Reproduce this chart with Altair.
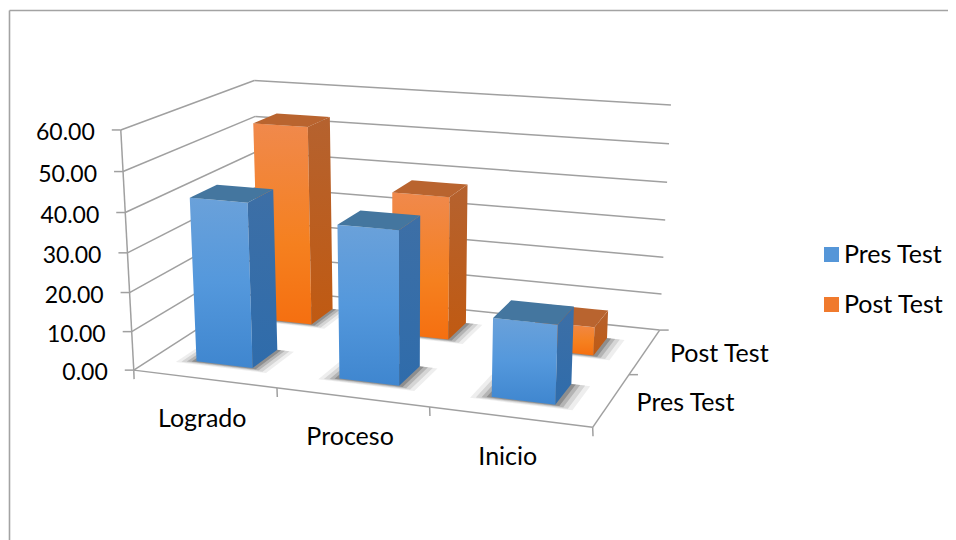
import altair as alt
import numpy as np
import pandas as pd

categories = ["Logrado", "Proceso", "Inicio"]
series = ["Pres Test", "Post Test"]
pres_test = [42.0, 38.5, 19.5]
post_test = [53.5, 38.0, 7.5]
value_ticks = [0, 10, 20, 30, 40, 50, 60]
VMAX = 60.0

# page-pixel frame of the perspective box: (category pos, depth pos, value share) -> page point
box = {
    (0, 0, 0): (132, 369), (0, 0, 1): (122, 129),
    (0, 1, 0): (262, 290), (0, 1, 1): (253, 81),
    (1, 1, 0): (660, 330), (1, 1, 1): (670, 103),
    (1, 0, 0): (592, 427), (1, 0, 1): (604, 167),
}
A, b = [], []
for (X, Y, Z), (px, py) in box.items():
    A.append([X, Y, Z, 1, 0, 0, 0, 0, -px * X, -px * Y, -px * Z]); b.append(px)
    A.append([0, 0, 0, 0, X, Y, Z, 1, -py * X, -py * Y, -py * Z]); b.append(py)
p = np.linalg.lstsq(np.array(A, float), np.array(b, float), rcond=None)[0]


def P(u, w, v):
    z = v / VMAX
    d = p[8] * u + p[9] * w + p[10] * z + 1
    return ((p[0] * u + p[1] * w + p[2] * z + p[3]) / d,
            (p[4] * u + p[5] * w + p[6] * z + p[7]) / d)


def poly_rows(pts):
    """Convex polygon as x / y / y2 rows for an area mark."""
    xs = sorted({round(float(q[0]), 3) for q in pts})
    n = len(pts)
    rows = []
    for x in xs:
        ys = []
        for i in range(n):
            (x0, y0), (x1, y1) = pts[i], pts[(i + 1) % n]
            lo, hi = min(x0, x1), max(x0, x1)
            if lo - 0.002 <= x <= hi + 0.002:
                if abs(x1 - x0) < 1e-6:
                    ys += [y0, y1]
                else:
                    ys.append(y0 + (y1 - y0) * (x - x0) / (x1 - x0))
        rows.append({"x": x, "y": min(ys), "y2": max(ys)})
    return pd.DataFrame(rows)


X = alt.X("x:Q", scale=alt.Scale(domain=[8, 948], nice=False, zero=False), axis=None)
Y = alt.Y("y:Q", scale=alt.Scale(domain=[540, 8], nice=False, zero=False), axis=None)


def grad(*stops):
    return alt.Gradient(gradient="linear", x1=0, x2=0, y1=0, y2=1,
                        stops=[alt.GradientStop(offset=o, color=c) for o, c in stops])


def face(pts, color, opacity=1.0):
    return alt.Chart(poly_rows(pts)).mark_area(color=color, opacity=opacity, line=False).encode(x=X, y=Y, y2="y2:Q")


layers = []

# frame and wall lines
segments = []


def seg(a, b, kind="grid"):
    k = len(segments)
    segments.append(pd.DataFrame({"x": [a[0], b[0]], "y": [a[1], b[1]], "id": k, "kind": kind}))


seg((9.5, 10.5), (948, 10.5), "frame")
seg((9.5, 10.5), (9.5, 540), "frame")
for v in value_ticks:
    seg(P(0, 0, v), P(0, 1, v))
    seg(P(0, 1, v), P(1, 1, v))
    fx, fy = P(0, 0, v)
    seg((fx - 9, fy), (fx, fy))
seg(P(0, 0, 0), P(0, 0, VMAX))
seg(P(0, 0, 0), P(1, 0, 0))
seg(P(1, 0, 0), P(1, 1, 0))
for i in range(len(categories) + 1):
    fx, fy = P(i / len(categories), 0, 0)
    seg((fx, fy), (fx + 0.3, fy + 9))
for j in range(1, len(series) + 1):
    fx, fy = P(1, j / len(series), 0)
    seg((fx, fy), (fx + 9, fy))
lines = pd.concat(segments)
layers.append(alt.Chart(lines[lines.kind == "frame"]).mark_line(color="#a3a3a3", strokeWidth=1.6).encode(x=X, y=Y, detail="id:N"))
layers.append(alt.Chart(lines[lines.kind == "grid"]).mark_line(color="#a0a0a0", strokeWidth=1.5).encode(x=X, y=Y, detail="id:N"))

# bars, back row first
BAR_U = 0.4 / 3
BAR_W = 0.4 / 2
palette = {
    "Pres Test": dict(front=grad((0, "#6aa1da"), (0.5, "#5498dc"), (1, "#3f86cf")),
                      side=grad((0, "#3d6fa6"), (1, "#2f6cab")), top="#44769f"),
    "Post Test": dict(front=grad((0, "#f0894c"), (0.6, "#f5801f"), (1, "#f56f10")),
                      side=grad((0, "#b5622f"), (1, "#c05a12")), top="#b9642f"),
}
rows = [(1, post_test, "Post Test"), (0, pres_test, "Pres Test")]
for j, vals, name in rows:
    w0 = (j + 0.5) / 2 - BAR_W / 2
    w1 = w0 + BAR_W
    for i, val in enumerate(vals):
        u0 = (i + 0.5) / 3 - BAR_U / 2
        u1 = u0 + BAR_U
        # soft floor shadow
        for grow, op in [(0.30, 0.08), (0.22, 0.12), (0.14, 0.18), (0.07, 0.26)]:
            du, dw = BAR_U * grow, 0.10 * grow
            layers.append(face([P(u0 - du, w0 - dw, 0), P(u1 + du, w0 - dw, 0),
                                P(u1 + du, w1, 0), P(u0 - du, w1, 0)], "#222222", op))
for j, vals, name in rows:
    w0 = (j + 0.5) / 2 - BAR_W / 2
    w1 = w0 + BAR_W
    c = palette[name]
    for i, val in enumerate(vals):
        u0 = (i + 0.5) / 3 - BAR_U / 2
        u1 = u0 + BAR_U
        layers.append(face([P(u0, w0, val), P(u1, w0, val), P(u1, w0, 0), P(u0, w0, 0)], c["front"]))
        layers.append(face([P(u1, w0, val), P(u1, w1, val), P(u1, w1, 0), P(u1, w0, 0)], c["side"]))
        layers.append(face([P(u0, w0, val), P(u1, w0, val), P(u1, w1, val), P(u0, w1, val)], c["top"]))

# labels
FONT = "Lato"
FS = 25
lab = []
for v in value_ticks:
    fx, fy = P(0, 0, v)
    lab.append({"x": fx - 26, "y": fy + 3, "t": f"{v:.2f}", "a": "right", "s": 23})
for i, cat in enumerate(categories):
    fx, fy = P((i + 0.5) / 3, 0, 0)
    lab.append({"x": fx - 2, "y": fy + 40, "t": cat, "a": "center", "s": FS})
for j, name in enumerate(series):
    fx, fy = P(1, (j + 0.5) / 2, 0)
    lab.append({"x": fx + 25, "y": fy + 3, "t": name, "a": "left", "s": FS})
lab = pd.DataFrame(lab)
for a in ["left", "right", "center"]:
    sub = lab[lab.a == a]
    layers.append(alt.Chart(sub).mark_text(font=FONT, fontSize=int(sub.s.iloc[0]), align=a, baseline="middle", color="#000000")
                  .encode(x=X, y=Y, text="t:N"))

# legend
legend_data = pd.DataFrame({"s": series, "x": [100.0, 100.0], "y": [100.0, 100.0]})
layers.append(alt.Chart(legend_data).mark_square(opacity=0, size=1).encode(
    x=X, y=Y,
    color=alt.Color("s:N", sort=series,
                    scale=alt.Scale(domain=series, range=["#5596d8", "#f07a2d"]),
                    legend=alt.Legend(title=None, orient="none", legendX=811, legendY=234,
                                      symbolType="square", symbolSize=225, symbolOpacity=1,
                                      symbolStrokeWidth=0, labelFont=FONT, labelFontSize=FS,
                                      labelColor="#000000", rowPadding=24, labelOffset=0))))

chart = alt.layer(*layers).properties(
    width=940, height=532, padding=0, background="white",
    autosize=alt.AutoSizeParams(type="none"),
).configure_view(stroke=None)

chart.save("out.html", embed_options={"renderer": "svg", "actions": False})
